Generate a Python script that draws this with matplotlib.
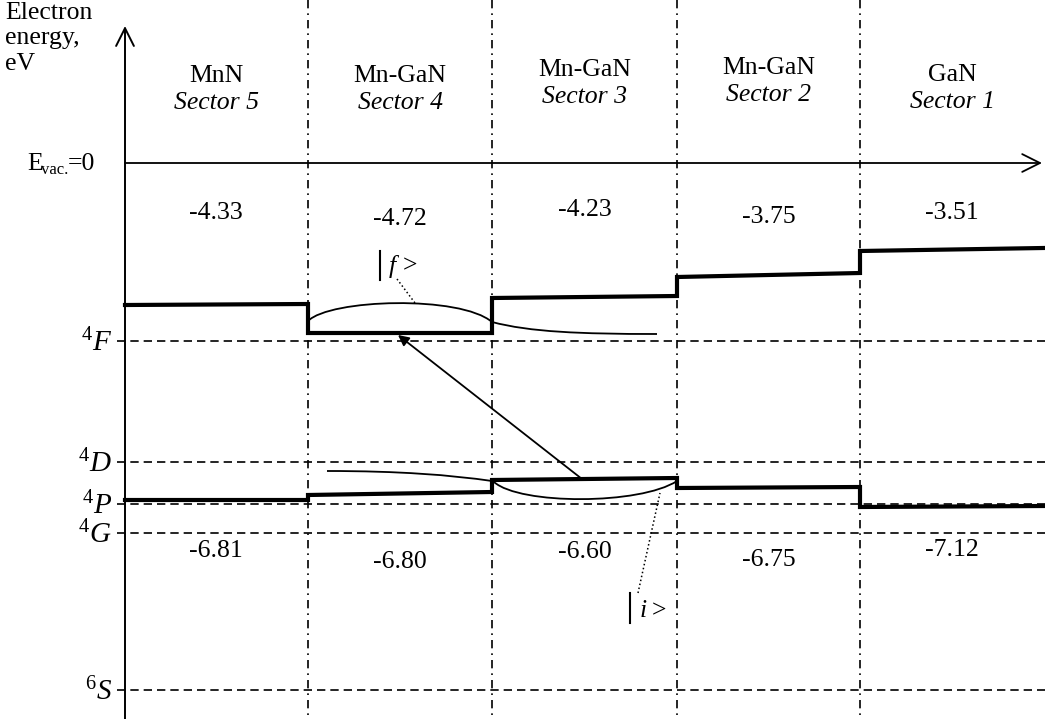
"""Schematic band diagram of the MnN / Mn-GaN / GaN sectors with Mn d-levels."""
import numpy as np
import matplotlib
matplotlib.use("Agg")
import matplotlib.pyplot as plt
from matplotlib.path import Path
from matplotlib.patches import PathPatch

plt.rcParams["font.family"] = ["Liberation Serif", "DejaVu Serif"]
plt.rcParams["mathtext.fontset"] = "custom"
plt.rcParams["mathtext.rm"] = "Liberation Serif"
plt.rcParams["mathtext.it"] = "Liberation Serif:italic"

# --- data (diagram units: pixels of the schematic, y grows downward) ---
materials = ["MnN", "Mn-GaN", "Mn-GaN", "Mn-GaN", "GaN"]
sectors = ["Sector 5", "Sector 4", "Sector 3", "Sector 2", "Sector 1"]
cb_values = ["-4.33", "-4.72", "-4.23", "-3.75", "-3.51"]
vb_values = ["-6.81", "-6.80", "-6.60", "-6.75", "-7.12"]

x_edges = [125, 308, 492, 677, 860, 1043]          # sector boundaries
cb_left = [305, 333, 298, 277, 251]                 # conduction edge at sector start
cb_right = [304, 333, 296, 273, 248]                # conduction edge at sector end
vb_left = [500, 495, 480, 488, 507]                 # valence edge at sector start
vb_right = [500, 492, 478, 487, 506]

label_x = [216, 400, 585, 769, 952]
label_y = [76, 76, 70, 68, 75]
cb_text_y = [213, 219, 210, 217, 213]
vb_text_y = [551, 562, 552, 560, 550]

levels = ["$^{4}F$", "$^{4}D$", "$^{4}P$", "$^{4}G$", "$^{6}S$"]
level_y = [341, 462, 504, 533, 690]

# wavefunction sketches (cubic Bezier control points)
psi_f = [(308, 321), (330, 299), (460, 295), (492, 322)]
psi_f_tail = [(492, 322), (530, 332), (580, 334), (657, 334)]
psi_i = [(494, 482), (520, 505), (640, 505), (677, 481)]
psi_i_tail = [(492, 481), (450, 475), (400, 471), (327, 471)]

W, H = 1045, 719
fig = plt.figure(figsize=(W / 100, H / 100), dpi=100)
ax = fig.add_axes([0, 0, 1, 1])
ax.set_xlim(0, W)
ax.set_ylim(H, 0)
ax.axis("off")

fs = 18.5

# sector boundaries
for xb in x_edges[1:-1]:
    ax.plot([xb, xb], [0, H], color="black", lw=1.2,
            linestyle=(0, (5, 3, 1, 3)))

# Mn levels (dashed, with a small tick left of the axis)
for name, yl in zip(levels, level_y):
    ax.plot([117, W], [yl, yl], color="black", lw=1.2, linestyle=(0, (5, 3)))
    ax.text(112, yl + 2, name, ha="right", va="center", fontsize=21)

# energy axis and vacuum level
ax.annotate("", xy=(125, 26), xytext=(125, 745),
            arrowprops=dict(arrowstyle="->", lw=1.4, mutation_scale=32,
                            shrinkA=0, shrinkB=0))
ax.annotate("", xy=(1042, 163), xytext=(125, 163),
            arrowprops=dict(arrowstyle="->", lw=1.3, mutation_scale=32,
                            shrinkA=0, shrinkB=0))
ax.text(5, 2, "Electron\nenergy,\neV", ha="left", va="top", fontsize=fs,
        linespacing=1.2)
ax.text(27, 164, "E", ha="left", va="center", fontsize=fs)
ax.text(41, 170, "vac.", ha="left", va="center", fontsize=12)
ax.text(68, 164, "=0", ha="left", va="center", fontsize=fs)

# conduction and valence band edges (thick steps)
for edges_l, edges_r in [(cb_left, cb_right), (vb_left, vb_right)]:
    xs, ys = [], []
    for i in range(len(sectors)):
        xs += [x_edges[i], x_edges[i + 1]]
        ys += [edges_l[i], edges_r[i]]
    ax.plot(xs, ys, color="black", lw=3, solid_joinstyle="miter")

# labels
for i in range(len(sectors)):
    ax.text(label_x[i], label_y[i], materials[i], ha="center", va="center", fontsize=fs)
    ax.text(label_x[i], label_y[i] + 27, sectors[i], ha="center", va="center",
            fontsize=fs, style="italic")
    ax.text(label_x[i], cb_text_y[i], cb_values[i], ha="center", va="center", fontsize=fs)
    ax.text(label_x[i], vb_text_y[i], vb_values[i], ha="center", va="center", fontsize=fs)

# wavefunctions
codes = [Path.MOVETO, Path.CURVE4, Path.CURVE4, Path.CURVE4]
for pts in [psi_f, psi_f_tail, psi_i, psi_i_tail]:
    ax.add_patch(PathPatch(Path(pts, codes), fill=False, lw=1.3, color="black"))

# transition arrow |i> -> |f>
ax.annotate("", xy=(398, 335), xytext=(582, 479),
            arrowprops=dict(arrowstyle="-|>", lw=1.3, mutation_scale=16,
                            color="black", shrinkA=0, shrinkB=0))

# state labels with dotted leaders
ax.plot([380, 380], [251, 280], color="black", lw=1.5)
ax.text(389, 266, "f", ha="left", va="center", fontsize=fs, style="italic")
ax.text(403, 266, ">", ha="left", va="center", fontsize=fs)
ax.plot([397, 415], [279, 303], color="black", lw=1.1, linestyle=":")

ax.plot([630, 630], [593, 623], color="black", lw=1.5)
ax.text(640, 611, "i", ha="left", va="center", fontsize=fs, style="italic")
ax.text(652, 611, ">", ha="left", va="center", fontsize=fs)
ax.plot([638, 660], [593, 493], color="black", lw=1.1, linestyle=":")

fig.savefig("out.png", dpi=100)
